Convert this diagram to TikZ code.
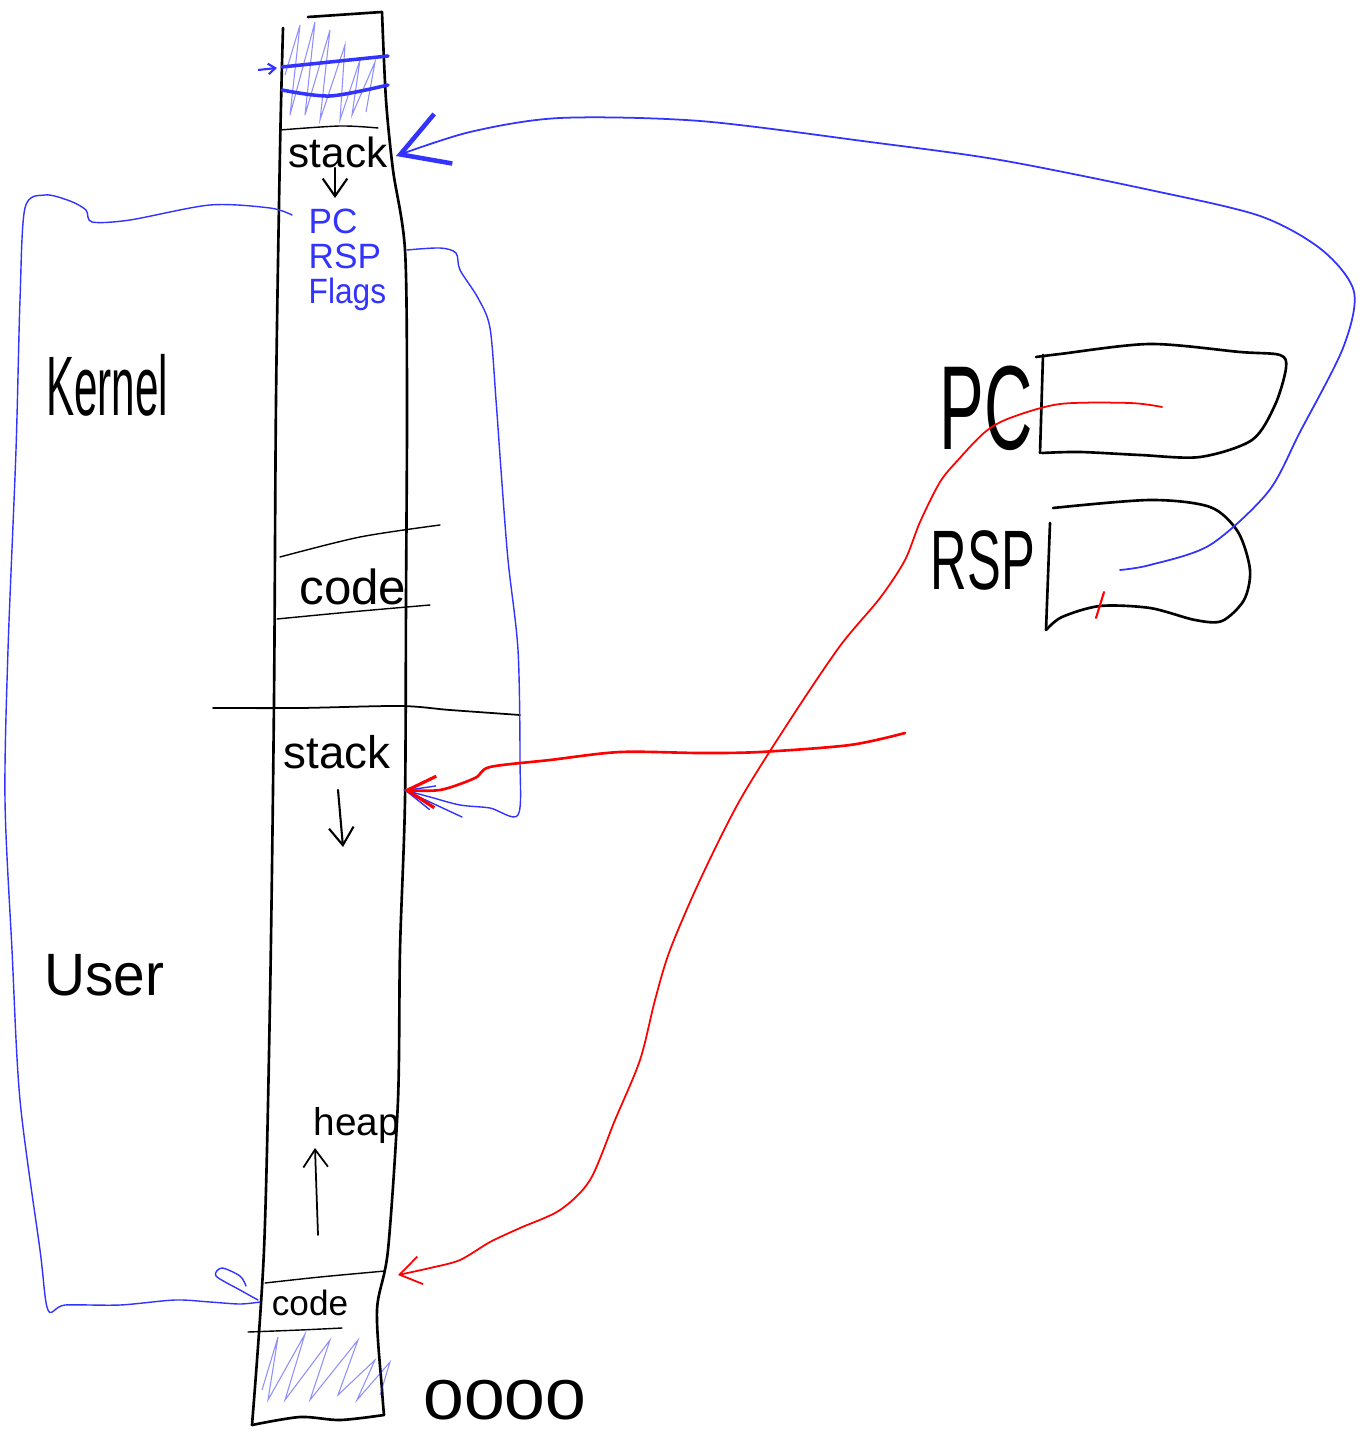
\documentclass[tikz,border=0pt]{standalone}
\usepackage{fontspec}
\setmainfont{Liberation Sans}
\usetikzlibrary{arrows.meta}
\definecolor{pen}{RGB}{51,51,255}
\definecolor{redpen}{RGB}{255,0,0}
\tikzset{
  ink/.style={line width=0.75pt, line cap=round, line join=round},
  thinink/.style={line width=0.4pt, line cap=round},
  bink/.style={draw=pen, line width=0.4pt, line cap=round, line join=round},
  rink/.style={draw=redpen, line width=0.5pt, line cap=round, line join=round},
  hatch/.style={draw=pen, line width=0.3pt, opacity=0.55},
  lbl/.style={inner sep=0pt, text=black},
  blbl/.style={inner sep=0pt, text=pen, anchor=west},
  barb/.style={-{Straight Barb[length=5pt,width=7pt]}},
}
\begin{document}
\begin{tikzpicture}[x={(0.01cm,0)}, y={(0,-0.01cm)}]
\useasboundingbox (0,0) rectangle (1362,1437);

% ---------- memory column ----------
\draw[ink] (308,17) -- (382,12);
\draw[ink] plot[smooth] coordinates {(283,28) (280,150) (276,400) (274,700) (270,1000) (264,1250) (252,1425)};
\draw[ink] plot[smooth] coordinates {(382,12) (386,100) (393,170) (405,250) (407,400) (406,600) (405,800) (400,950) (398,1100) (388,1250) (377,1310) (382,1390) (384,1415)};
\draw[ink] plot[smooth] coordinates {(252,1425) (300,1417) (340,1420) (384,1415)};

% top hatched area
\draw[hatch] plot coordinates {(285,75) (300,25) (290,115) (315,22) (305,115) (330,30) (320,120) (345,45) (340,120) (360,60) (352,115) (375,62) (366,112)};
\draw[draw=pen, line width=1pt, line cap=round] plot[smooth] coordinates {(282,67) (330,62) (388,56)};
\draw[draw=pen, line width=1pt, line cap=round] plot[smooth] coordinates {(282,90) (330,96) (388,85)};
\coordinate (hin) at (277,68);
\draw[draw=pen, line width=0.6pt, -{Straight Barb[length=2pt,width=3pt]}] (258,70) -- (hin);

% kernel stack
\draw[thinink] plot[smooth] coordinates {(280,130) (340,126) (378,128)};
\node[lbl, font=\fontsize{12}{12}\selectfont] (kstack) at (338,152) {stack};
\draw[ink, line width=0.6pt, barb] (335,168) -- (335,198);
\node[blbl, font=\fontsize{10}{10}\selectfont] (spc) at (308,221) {PC};
\node[blbl, font=\fontsize{10}{10}\selectfont] (srsp) at (308,256) {RSP};
\node[blbl, font=\fontsize{10}{10}\selectfont] (sflags) at (308,294) {\scalebox{0.9}[1]{Flags}};

% kernel code
\draw[thinink] plot[smooth] coordinates {(280,557) (360,537) (440,525)};
\draw[thinink] plot[smooth] coordinates {(277,619) (350,612) (430,605)};
\node[lbl, font=\fontsize{14}{14}\selectfont] (kcode) at (353,587) {code};

% kernel / user border
\draw[ink, line width=0.5pt] plot[smooth] coordinates {(213,708) (300,708) (400,706) (450,710) (520,715)};

% user stack
\node[lbl, font=\fontsize{13}{13}\selectfont] (ustack) at (337,752) {stack};
\draw[ink, line width=0.6pt, barb] (338,790) -- (343,847);

% heap
\node[lbl, font=\fontsize{11}{11}\selectfont] (heap) at (357,1125) {heap};
\draw[ink, line width=0.5pt, barb] (318,1235) -- (315,1148);

% user code
\draw[thinink] plot[smooth] coordinates {(265,1283) (320,1277) (385,1271)};
\draw[thinink] plot[smooth] coordinates {(248,1332) (300,1330) (342,1328)};
\node[lbl, font=\fontsize{10}{10}\selectfont] (ucode) at (310,1303) {code};

% bottom hatched area
\draw[hatch] plot coordinates {(262,1390) (278,1337) (268,1400) (305,1334) (285,1400) (330,1340) (310,1400) (358,1340) (338,1395) (375,1360) (357,1400) (390,1362) (380,1395)};

\node[lbl, font=\fontsize{16}{16}\selectfont] (zero) at (505,1400) {\scalebox{1.3}[1]{0000}};

% side labels
\node[lbl, font=\fontsize{24}{24}\selectfont] (klabel) at (107,385) {\scalebox{0.5}[1]{Kernel}};
\node[lbl, font=\fontsize{17}{17}\selectfont] (ulabel) at (104,975) {\scalebox{0.95}[1]{User}};

% ---------- registers ----------
\node[lbl, font=\fontsize{34}{34}\selectfont] (pclabel) at (986,408) {\scalebox{0.56}[1]{PC}};
\node[lbl, font=\fontsize{24}{24}\selectfont] (rsplabel) at (983,560) {\scalebox{0.6}[1]{RSP}};

\draw[ink] (1043,355) -- (1040,453);
\draw[ink] plot[smooth] coordinates {(1036,357) (1060,354) (1150,344) (1240,352) (1280,355) (1286,368) (1275,405) (1252,440) (1200,457) (1140,455) (1080,452) (1042,453)};
\coordinate (pcreg) at (1162,407);

\draw[ink] plot[smooth] coordinates {(1053,508) (1150,500) (1210,507) (1238,532) (1250,570) (1244,600) (1222,621) (1195,620) (1150,608) (1100,606) (1062,617) (1046,630)};
\draw[ink] (1050,523) -- (1046,630);
\coordinate (rspreg) at (1120,570);
\draw[rink, line width=0.6pt] (1104,592) -- (1096,618);

% ---------- connectors ----------
\coordinate (ktop) at (396,156);
\coordinate (utop) at (404,790);
\coordinate (ucodein) at (398,1275);
\coordinate (rspout) at (407,250);
\coordinate (pcout) at (292,215);

% saved PC -> user code
\draw[bink] plot[smooth] coordinates {(pcout) (270,208) (210,205) (130,220) (92,222) (86,210) (70,201) (45,195) (25,208) (20,300) (16,450) (8,650) (5,800) (12,950) (20,1100) (40,1250) (48,1310) (65,1305) (120,1305) (175,1300) (210,1302) (240,1304) (260,1302)};
\draw[bink] plot[smooth] coordinates {(258,1300) (240,1290) (216,1276) (222,1268) (240,1276) (246,1286)};

% saved RSP -> user stack
\draw[bink, -{Straight Barb[length=8pt,width=7pt]}] plot[smooth] coordinates {(rspout) (440,248) (456,253) (460,270) (478,298) (490,328) (496,400) (501,470) (508,560) (518,650) (520,760) (518,815) (490,808) (460,805) (430,797) (utop)};
\draw[bink] (utop) -- (462,817);

% RSP register -> kernel stack
\draw[draw=pen, line width=0.5pt, line cap=round, -{Straight Barb[length=13pt,width=15pt,line width=1.3pt]}] plot[smooth] coordinates {(rspreg) (1150,565) (1210,545) (1268,492) (1300,432) (1343,348) (1354,292) (1322,250) (1260,216) (1150,190) (1000,160) (870,142) (700,121) (560,118) (470,132) (ktop)};

% PC register -> user code
\draw[rink, -{Straight Barb[length=6pt,width=8pt]}] plot[smooth] coordinates {(pcreg) (1130,403) (1060,404) (1010,418) (985,432) (958,460) (940,482) (920,522) (905,560) (880,598) (840,646) (790,720) (740,800) (700,880) (670,950) (655,1000) (640,1060) (615,1120) (590,1180) (560,1210) (520,1228) (490,1242) (460,1260) (430,1268) (ucodein)};

% stack pointer -> user stack
\coordinate (rspnew) at (905,733);
\draw[rink, line width=0.75pt, -{Straight Barb[length=8pt,width=9pt,line width=0.9pt]}] plot[smooth] coordinates {(rspnew) (850,745) (760,752) (700,753) (620,752) (550,760) (490,767) (475,778) (440,790) (utop)};

\end{tikzpicture}
\end{document}
